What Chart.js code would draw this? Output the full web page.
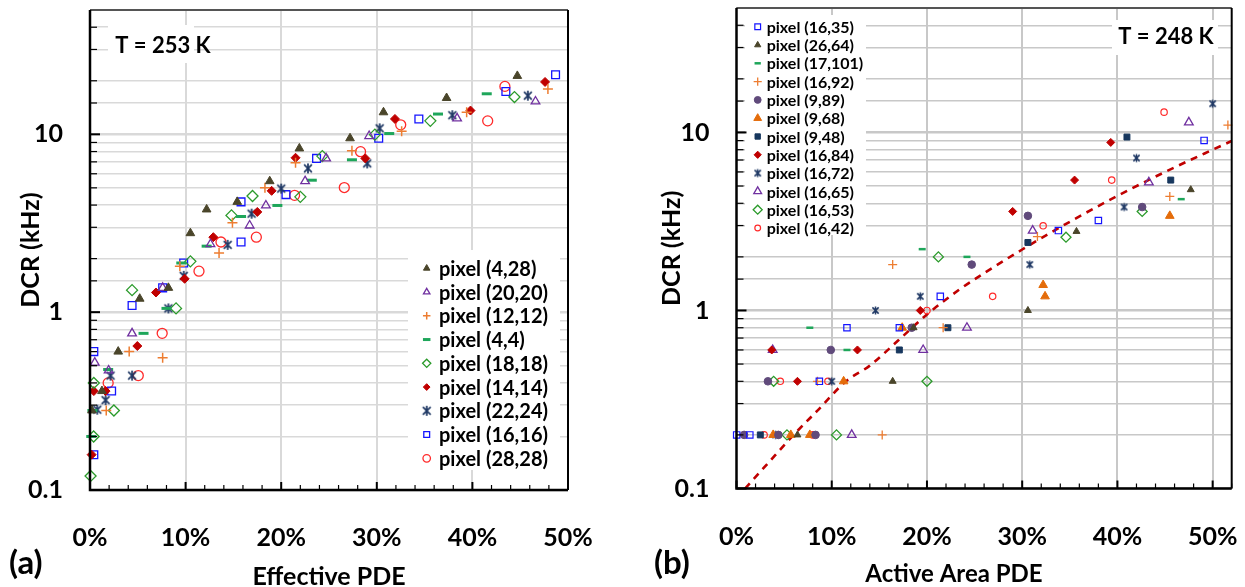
<!DOCTYPE html>
<html lang="en">
<head>
<meta charset="UTF-8">
<title>DCR vs PDE</title>
<script src="https://cdn.jsdelivr.net/npm/chart.js@4"></script>
<style>
  html, body { margin: 0; padding: 0; background: #fff; }
  body { width: 1245px; height: 587px; position: relative; overflow: hidden; }
  .panel { position: absolute; top: 0; }
  #panelA { left: 0; width: 600px; height: 587px; }
  #panelB { left: 620px; width: 625px; height: 587px; }
  .tag { position: absolute; font: bold 33px Lato, sans-serif; line-height: 33px; color: #000; }
</style>
</head>
<body>
<div class="panel" id="panelA"><canvas id="chartA" width="600" height="587"></canvas></div>
<div class="panel" id="panelB"><canvas id="chartB" width="625" height="587"></canvas></div>
<div class="tag" style="left:9px; top:545px;">(a)</div>
<div class="tag" style="left:654px; top:545px;">(b)</div>
<script>
// ---- panel (a): T = 253 K, DCR vs effective PDE [%, kHz] ----
const a_px4_28   = [[0.2,0.28],[1.25,0.36],[2.95,0.6],[5.2,1.19],[8.2,1.37],[10.5,2.78],[12.2,3.78],[15.4,4.17],[18.8,5.45],[21.9,8.33],[27.2,9.5],[30.7,13.3],[37.3,16.0],[44.7,21.3]];
const a_px20_20  = [[0.5,0.52],[1.95,0.47],[4.4,0.76],[7.6,1.37],[12.6,2.41],[16.7,3.07],[18.4,3.98],[22.5,5.45],[24.7,7.32],[29.2,9.78],[38.4,12.3],[46.6,15.3]];
const a_px12_12  = [[1.7,0.28],[4.1,0.6],[7.6,0.555],[9.4,1.81],[13.5,2.15],[14.9,3.18],[18.3,5.0],[21.5,6.92],[27.4,8.09],[32.6,10.4],[39.4,13.3],[47.9,18.0]];
const a_px4_4    = [[0.13,0.2],[0.25,0.28],[1.9,0.476],[5.6,0.76],[8.0,1.05],[9.55,1.89],[12.2,2.35],[15.8,3.45],[19.6,3.98],[23.2,5.52],[27.4,7.19],[31.3,10.1],[36.4,13.0],[41.5,16.9]];
const a_px18_18  = [[0.06,0.12],[0.38,0.2],[0.4,0.4],[2.5,0.28],[4.4,1.33],[9.0,1.05],[10.5,1.93],[14.8,3.5],[17.0,4.5],[22.0,4.45],[24.3,7.54],[29.8,9.96],[35.6,11.9],[44.4,16.2]];
const a_px14_14  = [[0.17,0.158],[0.4,0.36],[1.63,0.36],[4.95,0.645],[6.9,1.29],[9.9,1.54],[12.9,2.64],[17.5,3.66],[19.0,4.81],[21.5,7.38],[28.8,7.32],[31.9,12.2],[39.8,13.6],[47.6,19.7]];
const a_px22_24  = [[0.76,0.283],[1.63,0.32],[2.15,0.44],[4.4,0.44],[8.2,1.05],[9.8,1.6],[14.4,2.39],[16.9,3.58],[20.0,4.95],[22.8,6.43],[29.0,6.86],[30.3,10.8],[37.9,12.8],[45.8,16.5]];
const a_px16_16  = [[0.4,0.158],[0.4,0.6],[2.26,0.36],[4.4,1.09],[7.6,1.37],[9.8,1.89],[15.8,2.48],[15.8,4.17],[20.5,4.58],[23.7,7.32],[30.2,9.5],[34.4,12.2],[43.5,17.4],[48.7,21.6]];
const a_px28_28  = [[1.9,0.4],[5.05,0.44],[7.55,0.76],[11.4,1.7],[13.7,2.48],[17.4,2.64],[21.4,4.54],[26.6,5.02],[28.3,7.99],[32.5,11.3],[41.6,11.9],[43.4,18.6]];

// ---- panel (b): T = 248 K, DCR vs active area PDE [%, kHz] ----
const b_px16_35  = [[0.02,0.2],[1.4,0.2],[8.7,0.4],[11.6,0.8],[17.1,0.8],[21.4,1.2],[33.8,2.81],[38.0,3.2],[49.1,9.02]];
const b_px26_64  = [[6.4,0.2],[16.4,0.4],[18.6,0.8],[30.6,1.0],[35.7,2.78],[47.7,4.77]];
const b_px17_101 = [[7.7,0.8],[11.6,0.6],[19.5,2.21],[24.2,2.0],[46.7,4.22]];
const b_px16_92  = [[15.3,0.2],[8.5,0.4],[16.4,1.81],[21.7,0.8],[31.6,2.6],[45.5,4.37],[51.6,11.0]];
const b_px9_89   = [[0.8,0.2],[4.4,0.2],[8.3,0.2],[3.3,0.4],[9.9,0.6],[18.4,0.8],[24.7,1.81],[30.6,3.4],[42.6,3.81]];
const b_px9_68   = [[3.85,0.2],[5.7,0.2],[7.7,0.2],[11.25,0.4],[17.4,0.8],[32.2,1.39],[32.4,1.2],[45.5,3.4]];
const b_px9_48   = [[2.5,0.2],[17.1,0.6],[22.2,0.8],[30.6,2.41],[41.0,9.42],[45.6,5.4]];
const b_px16_84  = [[3.7,0.6],[6.4,0.4],[12.7,0.6],[19.3,1.0],[29.0,3.6],[35.5,5.4],[39.3,8.79]];
const b_px16_72  = [[4.1,0.2],[10.0,0.4],[14.6,1.0],[19.3,1.2],[30.8,1.81],[40.7,3.81],[42.0,7.18],[50.0,14.5]];
const b_px16_65  = [[3.8,0.6],[12.1,0.2],[19.6,0.6],[24.2,0.8],[31.1,2.81],[43.3,5.24],[47.5,11.4]];
const b_px16_53  = [[5.3,0.2],[3.9,0.4],[10.5,0.2],[20.0,0.4],[21.2,2.0],[34.6,2.58],[42.6,3.6]];
const b_px16_42  = [[2.9,0.2],[8.0,0.2],[4.6,0.4],[9.6,0.4],[20.0,1.0],[26.9,1.2],[32.2,2.99],[39.4,5.4],[44.9,13.0]];

// trend curve through panel (b)
const b_fitPde = [0.9, 3, 6, 8.5, 11.5, 14, 17, 20, 23.4, 26, 30, 35, 40, 45, 50, 52];
const b_fitDcr = [0.1, 0.133, 0.2, 0.274, 0.4, 0.49, 0.68, 0.95, 1.31, 1.62, 2.2, 3.15, 4.4, 6.0, 8.0, 8.95];

// axis labels
const dcrDecades = [0.1, 1, 10];
const pdeLabelStep = 10;

const FONT = 'Lato, "Liberation Sans", sans-serif';
const OLIVE = '#4a452a', PURPLE = '#7030a0', ORANGE = '#ed7d31', DASHGREEN = '#1ea65a',
      GREEN = '#2a9a2a', DARKRED = '#c00000', NAVY = '#1f3864', BLUE = '#1414ff', RED = '#ff2a2a',
      PLUM = '#604a7b', AMBER = '#e46c0a', INK = '#17375e', NONE = 'rgba(0,0,0,0)';

// asterisk marker: an X with a vertical bar
function asterisk(color, r, lw) {
  const s = Math.ceil(2 * r + 2 * lw);
  const c = document.createElement('canvas');
  c.width = s; c.height = s;
  const g = c.getContext('2d');
  const m = s / 2, d = r * 0.78;
  g.strokeStyle = color; g.lineWidth = lw;
  g.beginPath();
  g.moveTo(m - d, m - d); g.lineTo(m + d, m + d);
  g.moveTo(m + d, m - d); g.lineTo(m - d, m + d);
  g.moveTo(m, m - r); g.lineTo(m, m + r);
  g.stroke();
  return c;
}

const filled = (shape, c, r) => ({pointStyle: shape, pointRadius: r, pointBackgroundColor: c, pointBorderColor: c, pointBorderWidth: 1});
const hollow = (shape, c, r, w) => ({pointStyle: shape, pointRadius: r, pointBackgroundColor: NONE, pointBorderColor: c, pointBorderWidth: w || 1.3});
const stroked = (shape, c, r, w) => ({pointStyle: shape, pointRadius: r, pointBackgroundColor: c, pointBorderColor: c, pointBorderWidth: w});

function scatterSet(label, pts, style) {
  return Object.assign({label, data: pts.map(p => ({x: p[0], y: p[1]})), clip: false}, style);
}

const isDecade = v => dcrDecades.some(d => Math.abs(v - d) < 1e-9);

// white key box with marker + label rows, the temperature note, optional free-placed x caption
const keyBox = {
  id: 'keyBox',
  beforeDatasetsDraw(chart, args, o) {
    const ctx = chart.ctx;
    ctx.save();
    ctx.fillStyle = '#fff';
    ctx.fillRect(o.box[0], o.box[1], o.box[2], o.box[3]);
    ctx.fillRect(o.noteBox[0], o.noteBox[1], o.noteBox[2], o.noteBox[3]);
    ctx.fillStyle = '#000';
    ctx.textBaseline = 'middle';
    ctx.textAlign = 'center';
    ctx.font = 'bold ' + o.noteSize + 'px ' + FONT;
    ctx.fillText(o.note, o.noteAt[0], o.noteAt[1]);
    if (o.caption) {
      ctx.font = 'bold ' + o.caption[3] + 'px ' + FONT;
      ctx.fillText(o.caption[0], o.caption[1], o.caption[2]);
    }
    ctx.textAlign = 'left';
    ctx.font = 'bold ' + o.size + 'px ' + FONT;
    let row = 0;
    chart.data.datasets.forEach(ds => {
      if (!ds.label) return;
      const y = o.y0 + row * o.step;
      ctx.fillStyle = ds.pointBackgroundColor;
      ctx.strokeStyle = ds.pointBorderColor;
      ctx.lineWidth = ds.pointBorderWidth;
      Chart.helpers.drawPoint(ctx, {pointStyle: ds.pointStyle, radius: ds.pointRadius * o.markScale,
        borderWidth: ds.pointBorderWidth, rotation: 0}, o.markX, y);
      ctx.fillStyle = '#000';
      ctx.fillText(ds.label, o.textX, y + 1);
      row++;
    });
    ctx.restore();
  }
};

// plot frame with inward tick marks
const frame = {
  id: 'frame',
  afterDatasetsDraw(chart, args, o) {
    const {ctx, chartArea: a, scales: {x, y}} = chart;
    ctx.save();
    ctx.strokeStyle = '#000';
    x.ticks.forEach(t => {
      const px = x.getPixelForValue(t.value);
      const major = Math.abs(t.value % pdeLabelStep) < 1e-9;
      ctx.lineWidth = major ? 2 : 1.2;
      ctx.beginPath(); ctx.moveTo(px, a.bottom); ctx.lineTo(px, a.bottom - (major ? 8 : 5)); ctx.stroke();
    });
    y.ticks.forEach(t => {
      const py = y.getPixelForValue(t.value);
      const major = isDecade(t.value);
      ctx.lineWidth = major ? 2 : 1.2;
      ctx.beginPath(); ctx.moveTo(a.left, py); ctx.lineTo(a.left + (major ? 10 : 7), py); ctx.stroke();
    });
    ctx.lineWidth = 2;
    ctx.strokeStyle = o.topColor;
    ctx.beginPath(); ctx.moveTo(a.left, a.top); ctx.lineTo(a.right, a.top); ctx.stroke();
    ctx.strokeStyle = '#000';
    ctx.beginPath(); ctx.moveTo(a.right, a.top); ctx.lineTo(a.right, a.bottom); ctx.stroke();
    ctx.lineWidth = 2.5;
    ctx.beginPath(); ctx.moveTo(a.left, a.top); ctx.lineTo(a.left, a.bottom); ctx.lineTo(a.right, a.bottom); ctx.stroke();
    ctx.restore();
  }
};

function makeOptions(p) {
  const tickFont = {family: FONT, weight: 'bold', size: 25};
  return {
    responsive: false,
    animation: false,
    events: [],
    layout: {padding: {left: 0, top: p.top, right: p.right, bottom: 0}},
    plugins: {
      legend: {display: false},
      tooltip: {enabled: false},
      keyBox: p.key,
      frame: {topColor: '#555'}
    },
    scales: {
      x: {
        type: 'linear', min: 0, max: p.xMax,
        ticks: {stepSize: 2, autoSkip: false, maxRotation: 0, padding: 33, color: '#000', font: tickFont,
          callback: v => (Math.abs(v % pdeLabelStep) < 1e-9 ? v + '%' : '')},
        grid: {drawTicks: false, lineWidth: 2,
          color: c => (c.tick && c.tick.value > 0 && Math.abs(c.tick.value % pdeLabelStep) < 1e-9) ? p.grid : NONE},
        border: {display: false},
        title: {display: !!p.xTitle, text: p.xTitle || '', color: '#000',
          font: {family: FONT, weight: 'bold', size: 25, lineHeight: 1}, padding: {top: 0, bottom: -2}},
        afterFit: s => { s.height = p.xHeight; s.paddingLeft = 0; s.paddingRight = 0; }
      },
      y: {
        type: 'logarithmic', min: 0.1, max: 50,
        ticks: {autoSkip: false, padding: 27, color: '#000', font: tickFont,
          callback: v => (isDecade(v) ? String(v) : '')},
        grid: {drawTicks: false, color: p.grid,
          lineWidth: c => (c.tick && isDecade(c.tick.value)) ? 2.5 : 1.5},
        border: {display: false},
        title: {display: true, text: 'DCR (kHz)', color: '#000',
          font: {family: FONT, weight: 'bold', size: 25}, padding: {top: p.yTitlePad, bottom: 0}},
        afterFit: s => { s.width = p.yWidth; s.paddingTop = 0; s.paddingBottom = 0; }
      }
    }
  };
}

const starA = asterisk(NAVY, 5, 1.7);
const starB = asterisk(NAVY, 4, 1.5);

new Chart(document.getElementById('chartA'), {
  type: 'scatter',
  data: {
    datasets: [
      scatterSet('pixel (4,28)',  a_px4_28,  filled('triangle', OLIVE, 5)),
      scatterSet('pixel (20,20)', a_px20_20, hollow('triangle', PURPLE, 5)),
      scatterSet('pixel (12,12)', a_px12_12, stroked('cross', ORANGE, 5, 1.5)),
      scatterSet('pixel (4,4)',   a_px4_4,   stroked('line', DASHGREEN, 5, 3)),
      scatterSet('pixel (18,18)', a_px18_18, hollow('rectRot', GREEN, 5.5)),
      scatterSet('pixel (14,14)', a_px14_14, filled('rectRot', DARKRED, 4.5)),
      scatterSet('pixel (22,24)', a_px22_24, {pointStyle: starA, pointRadius: 5, pointBackgroundColor: NAVY, pointBorderColor: NAVY, pointBorderWidth: 1.7}),
      scatterSet('pixel (16,16)', a_px16_16, hollow('rect', BLUE, 5.5)),
      scatterSet('pixel (28,28)', a_px28_28, hollow('circle', RED, 5))
    ]
  },
  options: makeOptions({
    top: 10, right: 32, xMax: 50, xHeight: 97, yWidth: 90, yTitlePad: 16,
    xTitle: 'Effective PDE', grid: '#d9d9d9',
    key: {box: [408, 250, 152, 220], markX: 426.7, textX: 439, y0: 268.3, step: 23.75, size: 20, markScale: 0.75,
      note: 'T = 253 K', noteSize: 22, noteAt: [163, 46], noteBox: [108, 25, 86, 38]}
  }),
  plugins: [keyBox, frame]
});

new Chart(document.getElementById('chartB'), {
  type: 'scatter',
  data: {
    datasets: [
      scatterSet('pixel (16,35)',  b_px16_35,  hollow('rect', BLUE, 4.5, 1.2)),
      scatterSet('pixel (26,64)',  b_px26_64,  filled('triangle', OLIVE, 4)),
      scatterSet('pixel (17,101)', b_px17_101, stroked('line', DASHGREEN, 3.5, 2.5)),
      scatterSet('pixel (16,92)',  b_px16_92,  stroked('cross', ORANGE, 4.5, 1.3)),
      scatterSet('pixel (9,89)',   b_px9_89,   filled('circle', PLUM, 3.8)),
      scatterSet('pixel (9,68)',   b_px9_68,   filled('triangle', AMBER, 5)),
      scatterSet('pixel (9,48)',   b_px9_48,   filled('rect', INK, 4.2)),
      scatterSet('pixel (16,84)',  b_px16_84,  filled('rectRot', DARKRED, 4)),
      scatterSet('pixel (16,72)',  b_px16_72,  {pointStyle: starB, pointRadius: 4, pointBackgroundColor: NAVY, pointBorderColor: NAVY, pointBorderWidth: 1.5}),
      scatterSet('pixel (16,65)',  b_px16_65,  hollow('triangle', PURPLE, 5)),
      scatterSet('pixel (16,53)',  b_px16_53,  hollow('rectRot', GREEN, 5)),
      scatterSet('pixel (16,42)',  b_px16_42,  hollow('circle', RED, 3.2, 1.2)),
      {
        label: '',
        data: b_fitPde.map((x, i) => ({x, y: b_fitDcr[i]})),
        showLine: true, pointRadius: 0, borderColor: DARKRED, borderWidth: 2.6,
        borderDash: [7, 6], cubicInterpolationMode: 'monotone'
      }
    ]
  },
  options: makeOptions({
    top: 8, right: 13.3, xMax: 52, xHeight: 98.5, yWidth: 116.5, yTitlePad: 37,
    xTitle: null, grid: '#c8c8c8',
    key: {box: [125, 15, 121, 220], markX: 137.7, textX: 146.7, y0: 26.7, step: 18.3, size: 16, markScale: 0.9,
      note: 'T = 248 K', noteSize: 22, noteAt: [546, 37], noteBox: [492, 20, 106, 35],
      caption: ['Active Area PDE', 334, 574, 24]}
  }),
  plugins: [keyBox, frame]
});
</script>
</body>
</html>
